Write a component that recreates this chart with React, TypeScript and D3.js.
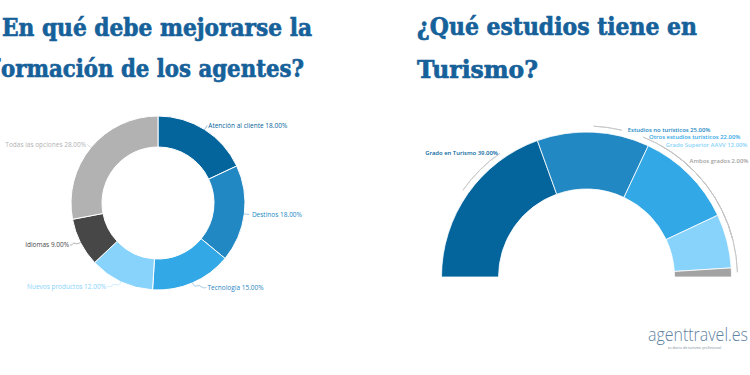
import { useEffect, useRef } from 'react';
import * as d3 from 'd3';

// left donut: where agents' training should improve
const mejoraCats = ['Atención al cliente', 'Destinos', 'Tecnología', 'Nuevos productos', 'Idiomas', 'Todas las opciones'];
const mejoraVals = [18, 18, 15, 12, 9, 28];
const mejoraColors = ['#04659d', '#2288c3', '#32a8e6', '#88d3fb', '#474747', '#b2b2b2'];
const mejoraLabelColors = ['#04659d', '#2288c3', '#2b86c4', '#88d3fb', '#474747', '#b2b2b2'];

// right semi-donut: studies in tourism
const estudiosCats = ['Grado en Turismo', 'Estudios no turísticos', 'Otros estudios turísticos', 'Grado Superior AAVV', 'Ambos grados'];
const estudiosVals = [39, 25, 22, 12, 2];
const estudiosColors = ['#04659d', '#2288c3', '#32a8e6', '#88d3fb', '#a3a3a3'];

const titleLeft = ['¿En qué debe mejorarse la', 'formación de los agentes?'];
const titleRight = ['¿Qué estudios tiene en', 'Turismo?'];

const W = 750, H = 375;
const titleColor = '#16619a';
const labelFont = '"Open Sans", sans-serif';

export default function App() {
  const ref = useRef<SVGSVGElement>(null);

  useEffect(() => {
    const svg = d3.select(ref.current);
    svg.selectAll('*').remove();
    svg.append('rect').attr('width', W).attr('height', H).attr('fill', '#fff');

    // titles (heavy serif, thickened with a stroke)
    const tf = '"DejaVu Serif", serif';
    const t = svg.append('g').attr('font-family', tf).attr('font-weight', 'bold').attr('fill', titleColor)
      .attr('stroke', titleColor).attr('stroke-width', 0.7).attr('font-size', 25);
    // first chars of the left title fall off the page
    t.append('text').attr('x', -3).attr('y', 36).attr('text-anchor', 'end').text(titleLeft[0][0]);
    t.append('text').attr('x', 2).attr('y', 36).attr('textLength', 310).attr('lengthAdjust', 'spacingAndGlyphs').text(titleLeft[0].slice(1));
    t.append('text').attr('x', -1).attr('y', 77).attr('text-anchor', 'end').text(titleLeft[1][0]);
    t.append('text').attr('x', 1).attr('y', 77).attr('textLength', 303).attr('lengthAdjust', 'spacingAndGlyphs').text(titleLeft[1].slice(1));
    t.append('text').attr('x', 417).attr('y', 35).attr('textLength', 280).attr('lengthAdjust', 'spacingAndGlyphs').text(titleRight[0]);
    t.append('text').attr('x', 417).attr('y', 78).attr('textLength', 121).attr('lengthAdjust', 'spacingAndGlyphs').text(titleRight[1]);

    // ---- left donut
    const cx1 = 158, cy1 = 203, R1 = 87, r1 = 56;
    const pie1 = d3.pie<number>().sort(null)(mejoraVals);
    const arc1 = d3.arc<d3.PieArcDatum<number>>().innerRadius(r1).outerRadius(R1);
    const g1 = svg.append('g').attr('transform', `translate(${cx1},${cy1})`);
    g1.selectAll('path.s').data(pie1).join('path').attr('class', 's')
      .attr('d', arc1).attr('fill', (_, i) => mejoraColors[i]).attr('stroke', '#fff').attr('stroke-width', 1);

    pie1.forEach((d, i) => {
      const a = (d.startAngle + d.endAngle) / 2;
      const right = Math.sin(a) >= 0;
      const dir = right ? 1 : -1;
      const push = Math.max(0, -Math.cos(a)) * 13;
      const p0: [number, number] = [Math.sin(a) * R1, -Math.cos(a) * R1];
      const p1: [number, number] = [Math.sin(a) * (R1 + 5), -Math.cos(a) * (R1 + 5)];
      const p2: [number, number] = [p1[0] + dir * push, p1[1]];
      const link = push > 2
        ? d3.line().curve(d3.curveBasis)([p0, p1, [p1[0] + dir * push * 0.4, p1[1] - 3], [p1[0] + dir * push * 0.7, p1[1] + 1], p2])
        : d3.line()([p0, p1]);
      g1.append('path').attr('d', link || '')
        .attr('fill', 'none').attr('stroke', mejoraLabelColors[i]).attr('stroke-width', 0.6).attr('opacity', 0.7);
      g1.append('text').attr('x', p2[0] + dir * 1).attr('y', p2[1])
        .attr('dominant-baseline', 'central').attr('text-anchor', right ? 'start' : 'end')
        .attr('font-family', labelFont).attr('font-size', 6.5).attr('fill', mejoraLabelColors[i])
        .text(`${mejoraCats[i]} ${mejoraVals[i].toFixed(2)}%`);
    });

    // ---- right semi donut
    const cx2 = 586.5, cy2 = 277, R2 = 145, r2 = 88, RT = 151;
    const pie2 = d3.pie<number>().sort(null).startAngle(-Math.PI / 2).endAngle(Math.PI / 2)(estudiosVals);
    const arc2 = d3.arc<d3.PieArcDatum<number>>().innerRadius(r2).outerRadius(R2);
    const g2 = svg.append('g').attr('transform', `translate(${cx2},${cy2})`);
    g2.selectAll('path.s').data(pie2).join('path').attr('class', 's')
      .attr('d', arc2).attr('fill', (_, i) => estudiosColors[i]).attr('stroke', '#fff').attr('stroke-width', 0.8);

    // label positions along the outer tick arc (degrees from top)
    const labelAngles = [-35, 13.5, 22, 29, 40];
    const toRad = Math.PI / 180;
    pie2.forEach((d, i) => {
      const mid = (d.startAngle + d.endAngle) / 2;
      const la = labelAngles[i] * toRad;
      const tick = d3.arc()({ innerRadius: RT, outerRadius: RT, startAngle: Math.min(mid, la), endAngle: Math.max(mid, la) } as any);
      g2.append('path').attr('d', tick || '').attr('fill', 'none').attr('stroke', '#c4c4c4').attr('stroke-width', 0.8);
      const right = la >= 0;
      const lx = Math.sin(la) * RT, ly = -Math.cos(la) * RT;
      g2.append('text').attr('x', lx + (right ? 6 : -2)).attr('y', ly)
        .attr('dominant-baseline', 'central').attr('text-anchor', right ? 'start' : 'end')
        .attr('font-family', labelFont).attr('font-size', 5.9).attr('font-weight', 600).attr('fill', estudiosColors[i])
        .text(`${estudiosCats[i]} ${estudiosVals[i].toFixed(2)}%`);
    });

    // ---- logo
    const logo = svg.append('g');
    logo.append('text').attr('x', 648).attr('y', 341).attr('font-family', '"Open Sans", sans-serif')
      .attr('font-weight', 300).attr('font-size', 17.5).attr('fill', '#5f83a2')
      .attr('textLength', 100).attr('lengthAdjust', 'spacingAndGlyphs').text('agenttravel.es');
    logo.append('text').attr('x', 668).attr('y', 349).attr('font-family', '"Open Sans", sans-serif')
      .attr('font-size', 3.6).attr('fill', '#7a8a99').text('tu diario de turismo profesional');
  }, []);

  return (
    <svg ref={ref} width={W} height={H} viewBox={`0 0 ${W} ${H}`}
      style={{ position: 'absolute', left: 0, top: 0, display: 'block' }} />
  );
}
